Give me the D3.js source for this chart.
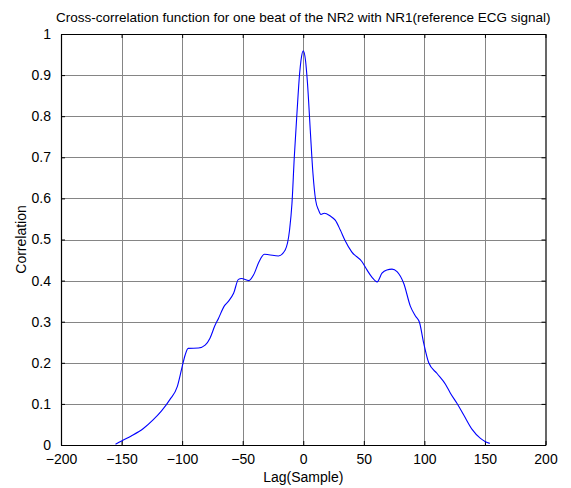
<!DOCTYPE html>
<html>
<head>
<meta charset="utf-8">
<script src="https://cdn.jsdelivr.net/npm/d3@7"></script>
<style>
  html, body { margin: 0; padding: 0; background: #fff; }
  svg { display: block; font-family: "Liberation Sans", Arial, sans-serif; }
</style>
</head>
<body>
<svg id="chart" width="571" height="488"></svg>
<script>
// Cross-correlation of one NR2 beat against the NR1 reference ECG beat
const lags = [-155, -150, -142, -132, -124, -117, -110, -104, -100, -97.5, -95, -86.5, -81, -77, -73, -70,
  -65, -62, -57.5, -53.5, -51, -45, -41, -36.5, -32, -28.5, -20.5, -15, -11.3, -9.3, -7.4, -5.2, -3, -1.9,
  0, 1.9, 3.5, 5.8, 8, 10.2, 12.6, 14.6, 17.4, 22.3, 26.4, 30.6, 34.3, 40, 48.5, 52.6, 56.8, 61, 65, 69,
  73.3, 77.4, 83, 88.4, 92.6, 96, 99.5, 103.6, 110.5, 117.4, 121.5, 127, 132.5, 139.4, 146.3, 150.4, 154];
const correlation = [0.002, 0.01, 0.022, 0.04, 0.061, 0.083, 0.111, 0.142, 0.19, 0.219, 0.235, 0.236, 0.243,
  0.26, 0.29, 0.308, 0.339, 0.349, 0.369, 0.403, 0.405, 0.40, 0.414, 0.446, 0.464, 0.463, 0.46, 0.474, 0.523,
  0.588, 0.70, 0.807, 0.904, 0.935, 0.959, 0.935, 0.88, 0.766, 0.661, 0.596, 0.572, 0.561, 0.564, 0.557,
  0.547, 0.523, 0.499, 0.47, 0.446, 0.426, 0.408, 0.397, 0.418, 0.426, 0.428, 0.422, 0.393, 0.338, 0.314,
  0.298, 0.247, 0.20, 0.174, 0.148, 0.126, 0.101, 0.073, 0.038, 0.016, 0.008, 0.004];

const xTicks = [-200, -150, -100, -50, 0, 50, 100, 150, 200];
const yTicks = [0, 0.1, 0.2, 0.3, 0.4, 0.5, 0.6, 0.7, 0.8, 0.9, 1];

const titleText = "Cross-correlation function for one beat of the NR2 with NR1(reference ECG signal)";
const xLabel = "Lag(Sample)";
const yLabel = "Correlation";

const svg = d3.select("#chart");
const box = { left: 61, right: 545.5, top: 34, bottom: 445 };

const x = d3.scaleLinear().domain([-200, 200]).range([box.left, box.right]);
const y = d3.scaleLinear().domain([0, 1]).range([box.bottom, box.top]);

const fontSize = 14;

// grid
const grid = svg.append("g").attr("stroke", "#858585").attr("stroke-width", 1).attr("shape-rendering", "crispEdges");
grid.selectAll("line.vx").data(xTicks.slice(1, -1)).join("line")
  .attr("x1", d => Math.round(x(d)) + 0.5).attr("x2", d => Math.round(x(d)) + 0.5)
  .attr("y1", box.top).attr("y2", box.bottom);
grid.selectAll("line.hy").data(yTicks.slice(1, -1)).join("line")
  .attr("y1", d => Math.round(y(d)) + 0.5).attr("y2", d => Math.round(y(d)) + 0.5)
  .attr("x1", box.left).attr("x2", box.right);

// axes with inward ticks on all four sides
const tickLen = 4;
const axB = svg.append("g").attr("transform", `translate(0,${box.bottom})`)
  .call(d3.axisBottom(x).tickValues(xTicks).tickSizeInner(-tickLen).tickSizeOuter(0).tickPadding(5 + tickLen));
const axT = svg.append("g").attr("transform", `translate(0,${box.top})`)
  .call(d3.axisTop(x).tickValues(xTicks).tickSizeInner(-tickLen).tickSizeOuter(0).tickFormat(""));
const axL = svg.append("g").attr("transform", `translate(${box.left},0)`)
  .call(d3.axisLeft(y).tickValues(yTicks).tickSizeInner(-tickLen).tickSizeOuter(0).tickPadding(6 + tickLen)
    .tickFormat(d => d3.format("~g")(d)));
const axR = svg.append("g").attr("transform", `translate(${box.right},0)`)
  .call(d3.axisRight(y).tickValues(yTicks).tickSizeInner(-tickLen).tickSizeOuter(0).tickFormat(""));

[axB, axT, axL, axR].forEach(a => {
  a.select(".domain").attr("stroke", "#000").attr("stroke-width", 1.2);
  a.selectAll(".tick line").attr("stroke", "#000");
  a.selectAll("text").attr("font-size", fontSize).attr("fill", "#000")
    .attr("font-family", "'Liberation Sans', Arial, sans-serif");
});
axB.selectAll("text").attr("dy", "0.71em");

// correlation curve
const line = d3.line()
  .x((d, i) => x(lags[i]))
  .y((d, i) => y(correlation[i]))
  .curve(d3.curveMonotoneX);
svg.append("path")
  .attr("d", line(lags))
  .attr("fill", "none")
  .attr("stroke", "#0000ff")
  .attr("stroke-width", 1.1);

// labels
svg.append("text").attr("x", (box.left + box.right) / 2).attr("y", 22)
  .attr("text-anchor", "middle").attr("font-size", 13.5).text(titleText);
svg.append("text").attr("x", (box.left + box.right) / 2).attr("y", 482)
  .attr("text-anchor", "middle").attr("font-size", fontSize).text(xLabel);
svg.append("text").attr("transform", `translate(26,${(box.top + box.bottom) / 2}) rotate(-90)`)
  .attr("text-anchor", "middle").attr("font-size", fontSize).text(yLabel);
</script>
</body>
</html>
